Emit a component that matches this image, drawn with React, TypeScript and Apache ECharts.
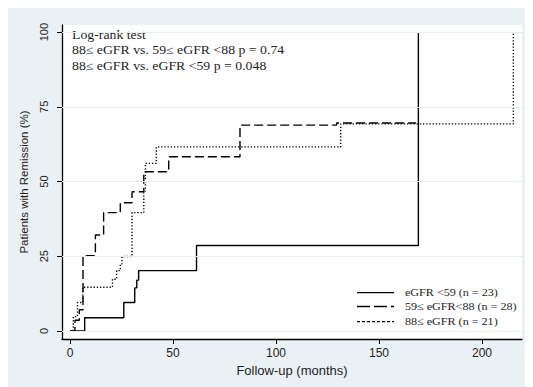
import React, { useEffect, useRef } from "react";
import * as echarts from "echarts";

const xTicks = [0, 50, 100, 150, 200];
const yTicks = [0, 25, 50, 75, 100];

const lowTimes = [0, 7.1, 26.1, 31.4, 32.4, 33.3, 61.4, 169.1];
const lowValues = [0, 4.4, 9.5, 14.4, 17.0, 20.2, 28.6, 100];

const midTimes = [0, 2.4, 4.5, 6.3, 12.3, 16.3, 24.4, 30.1, 35.8, 47.9, 82.5, 129.4, 168];
const midValues = [0, 3.6, 7.1, 25.2, 32.1, 39.6, 42.9, 46.6, 53.3, 58.3, 68.9, 69.6, 69.6];

const highTimes = [0, 1.6, 3.6, 6.2, 20.6, 22.6, 24.4, 25.2, 30.1, 35.8, 36.6, 41.9, 131.4, 215.2];
const highValues = [0, 4.8, 9.5, 14.6, 17.3, 20.2, 22.4, 24.9, 39.6, 46.8, 56.1, 61.6, 69.3, 100];

const legendLabels = ["eGFR <59 (n = 23)", "59\u2264 eGFR<88 (n = 28)", "88\u2264 eGFR (n = 21)"];
const annotation = [
  "Log-rank test",
  "88\u2264 eGFR vs. 59\u2264 eGFR <88 p = 0.74",
  "88\u2264 eGFR vs. eGFR <59 p = 0.048",
];

const zip = (a: number[], b: number[]) => a.map((t, i) => [t, b[i]]);

export default function App() {
  const ref = useRef<HTMLDivElement>(null);
  useEffect(() => {
    if (!ref.current) return;
    const chart = echarts.init(ref.current, null, { renderer: "svg" });
    const serif = "'Liberation Serif', 'DejaVu Serif', serif";
    const sans = "'Liberation Sans', Arial, sans-serif";
    const txt = "#1e1e1e";
    const legX1 = 349;
    const legX2 = 386;
    const legY = [284.7, 298.5, 313.7];
    const legDash: any[] = [null, [13, 4], [3, 2]];
    chart.setOption({
      animation: false,
      backgroundColor: "#eaf1f4",
      grid: {
        left: 54,
        top: 17,
        right: 11,
        bottom: 48,
        show: true,
        backgroundColor: "#ffffff",
        borderWidth: 0,
      },
      xAxis: {
        type: "value",
        min: -3.9,
        max: 219.4,
        name: "Follow-up (months)",
        nameLocation: "middle",
        nameGap: 24,
        nameTextStyle: { fontFamily: sans, fontSize: 13, color: txt },
        axisLine: { onZero: false, lineStyle: { color: "#000", width: 1.3 } },
        axisTick: { customValues: xTicks, length: 5, lineStyle: { color: "#000" } },
        axisLabel: { customValues: xTicks, fontFamily: sans, fontSize: 12, color: txt, margin: 8 },
        splitLine: { show: false },
      },
      yAxis: {
        type: "value",
        min: -2.7,
        max: 102.4,
        name: "Patients with Remission (%)",
        nameLocation: "middle",
        nameGap: 30,
        nameTextStyle: { fontFamily: sans, fontSize: 11.5, color: txt },
        axisLine: { onZero: false, lineStyle: { color: "#000", width: 1.3 } },
        axisTick: { customValues: yTicks, length: 5, lineStyle: { color: "#000" } },
        axisLabel: { customValues: yTicks, rotate: 90, fontFamily: sans, fontSize: 11, color: txt, margin: 13 },
        splitLine: { show: false },
      },
      series: [
        {
          type: "line",
          z: 1,
          data: [[0, 0]],
          symbol: "none",
          lineStyle: { opacity: 0 },
          silent: true,
          markLine: {
            silent: true,
            symbol: "none",
            label: { show: false },
            lineStyle: { color: "#e4edf0", width: 1, type: "solid" },
            data: yTicks.map((v) => ({ yAxis: v })),
          },
        },
        {
          name: legendLabels[0],
          type: "line",
          z: 3,
          step: "end",
          symbol: "none",
          data: zip(lowTimes, lowValues),
          lineStyle: { color: "#000", width: 1.4, type: "solid" },
        },
        {
          name: legendLabels[1],
          type: "line",
          z: 3,
          step: "end",
          symbol: "none",
          data: zip(midTimes, midValues),
          lineStyle: { color: "#000", width: 1.4, type: [9, 4] },
        },
        {
          name: legendLabels[2],
          type: "line",
          z: 3,
          step: "end",
          symbol: "none",
          data: zip(highTimes, highValues),
          lineStyle: { color: "#000", width: 1.4, type: [1.3, 1.9] },
        },
      ],
      graphic: [
        ...annotation.map((s, i) => ({
          type: "text",
          x: 64,
          y: 27 + i * 15.7,
          scaleX: 1.2,
          style: { text: s, font: `11.5px ${serif}`, fill: txt, verticalAlign: "middle" },
        })),
        ...legendLabels.map((s, i) => ({
          type: "line",
          shape: { x1: legX1, y1: legY[i], x2: legX2, y2: legY[i] },
          style: { stroke: "#000", lineWidth: 1.3, lineDash: legDash[i] || undefined },
        })),
        ...legendLabels.map((s, i) => ({
          type: "text",
          x: 397,
          y: legY[i],
          scaleX: 1.1,
          style: { text: s, font: `11px ${serif}`, fill: txt, verticalAlign: "middle" },
        })),
      ],
    });
    return () => chart.dispose();
  }, []);
  return <div ref={ref} style={{ width: 525, height: 379 }} />;
}
